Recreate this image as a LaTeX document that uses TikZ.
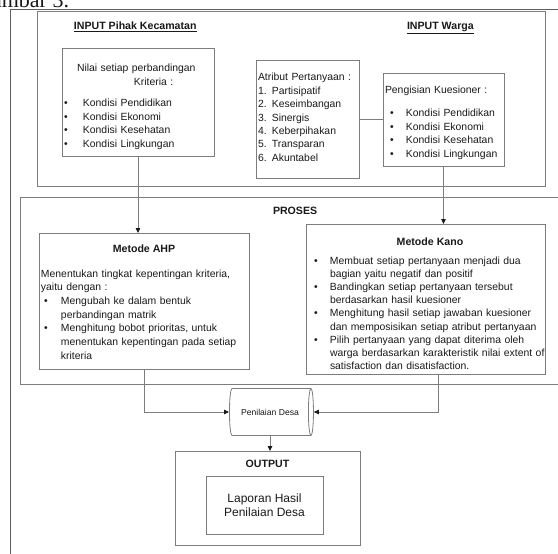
\documentclass[tikz,border=0pt]{standalone}
\usepackage{fontspec}
\setmainfont{Liberation Sans}
\newfontfamily\capserif{Liberation Serif}
\usetikzlibrary{shapes.geometric,arrows.meta}
\definecolor{linegray}{RGB}{125,125,125}
\definecolor{framegray}{RGB}{95,95,95}
\definecolor{ink}{RGB}{25,25,25}
\newcommand{\bodyfs}{\fontsize{10.4}{14}\selectfont}
\newcommand{\bul}[1]{\makebox[#1][l]{\textbullet}}
\begin{document}
\begin{tikzpicture}[x=1pt,y=-1pt,
  panel/.style={draw=linegray,line width=0.8pt,anchor=north west,inner sep=0pt,outer sep=0pt},
  txt/.style={anchor=base west,inner sep=0pt,outer sep=0pt,text=ink,font=\bodyfs,align=left,text width=300pt},
  head/.style={inner sep=0pt,outer sep=0pt,text=ink,font=\bfseries\fontsize{10.6}{12}\selectfont},
  conn/.style={draw=linegray,line width=0.8pt},
  arr/.style={conn,-{Triangle[length=5pt,width=4.5pt,color=ink]}},
  frameline/.style={draw=framegray,line width=1pt}
]
\clip (0,0) rectangle (558,554);
% cut-off caption and page frame
\node[anchor=base west,inner sep=0pt,text=ink,font=\capserif\fontsize{22}{24}\selectfont] (cap) at (-24,7) {Gambar 3.};
\draw[frameline] (10,560) -- (10,9) -- (570,9);

% INPUT panel
\node[panel,minimum width=508pt,minimum height=175pt] (input) at (37,11) {};
\node[head,anchor=base west] (hpihak) at (74,30) {\underline{INPUT Pihak Kecamatan}};
\node[head,anchor=base west] (hwarga) at (407,30) {\underline{INPUT Warga}};

\node[panel,minimum width=152pt,minimum height=108pt] (nilai) at (62,48) {};
\node[txt] (tnilai) at (77,71) {Nilai setiap perbandingan\\\hspace*{57pt}Kriteria :};
\node[txt] (lnilai) at (64,106) {\bul{19pt}Kondisi Pendidikan\\\bul{19pt}Kondisi Ekonomi\\\bul{19pt}Kondisi Kesehatan\\\bul{19pt}Kondisi Lingkungan};

\node[panel,minimum width=103pt,minimum height=118pt] (atribut) at (256,60) {};
\node[txt,font=\fontsize{10.4}{13.4}\selectfont] (tatribut) at (258,81) {Atribut Pertanyaan :\\1. Partisipatif\\2. Keseimbangan\\3. Sinergis\\4. Keberpihakan\\5. Transparan\\6. Akuntabel};

\node[panel,minimum width=121pt,minimum height=93pt] (kues) at (383,73) {};
\node[txt] (tkues) at (385,93) {Pengisian Kuesioner :};
\node[txt] (lkues) at (390,116) {\bul{16pt}Kondisi Pendidikan\\\bul{16pt}Kondisi Ekonomi\\\bul{16pt}Kondisi Kesehatan\\\bul{16pt}Kondisi Lingkungan};

\draw[conn] (atribut.east) -- (atribut.east -| kues.west);

% PROSES panel
\node[panel,minimum width=570pt,minimum height=187pt] (proses) at (20,197) {};
\node[head,anchor=base west] (hproses) at (273,214) {PROSES};

\node[panel,minimum width=210pt,minimum height=136pt] (ahp) at (39,233) {};
\node[head,anchor=base] (hahp) at (144,252) {Metode AHP};
\node[txt,font=\fontsize{10.4}{13.7}\selectfont] (tahp) at (41,277) {Menentukan tingkat kepentingan kriteria,\\yaitu dengan :\\\hspace*{3pt}\bul{17pt}Mengubah ke dalam bentuk\\\hspace*{20pt}perbandingan matrik\\\hspace*{3pt}\bul{17pt}Menghitung bobot prioritas, untuk\\\hspace*{20pt}menentukan kepentingan pada setiap\\\hspace*{20pt}kriteria};

\node[panel,minimum width=239pt,minimum height=150pt] (kano) at (306,224) {};
\node[head,anchor=base] (hkano) at (430,245) {Metode Kano};
\node[txt,font=\fontsize{10.4}{13.2}\selectfont] (tkano) at (314,264) {\bul{16pt}Membuat setiap pertanyaan menjadi dua\\\hspace*{16pt}bagian yaitu negatif dan positif\\\bul{16pt}Bandingkan setiap pertanyaan tersebut\\\hspace*{16pt}berdasarkan hasil kuesioner\\\bul{16pt}Menghitung hasil setiap jawaban kuesioner\\\hspace*{16pt}dan memposisikan setiap atribut pertanyaan\\\bul{16pt}Pilih pertanyaan yang dapat diterima oleh\\\hspace*{16pt}warga berdasarkan karakteristik nilai extent of\\\hspace*{16pt}satisfaction dan disatisfaction.};

% Penilaian Desa
\node[cylinder,draw=linegray,line width=0.8pt,fill=white,shape border rotate=0,aspect=0.8,
      minimum height=84pt,minimum width=47pt,inner sep=0pt,text=ink,font=\fontsize{8.6}{10}\selectfont] (desa) at (270,412) {Penilaian Desa};

% OUTPUT
\node[panel,minimum width=185pt,minimum height=94pt] (out) at (175,451) {};
\node[head,anchor=base] (hout) at (267.5,467) {OUTPUT};
\node[panel,minimum width=117pt,minimum height=58pt] (lap) at (206,476) {};
\node[inner sep=0pt,text=ink,font=\fontsize{12}{14}\selectfont,align=center] (tlap) at (lap.center) {Laporan Hasil\\Penilaian Desa};

% connectors
\draw[arr] (nilai.south) -- (nilai.south |- ahp.north);
\draw[arr] (kues.south) -- (kues.south |- kano.north);
\draw[arr] (ahp.south) |- (desa.west);
\draw[arr] ([xshift=13pt]kano.south) |- (desa.east);
\draw[arr] (desa.south) -- (desa.south |- out.north);
\end{tikzpicture}
\end{document}
